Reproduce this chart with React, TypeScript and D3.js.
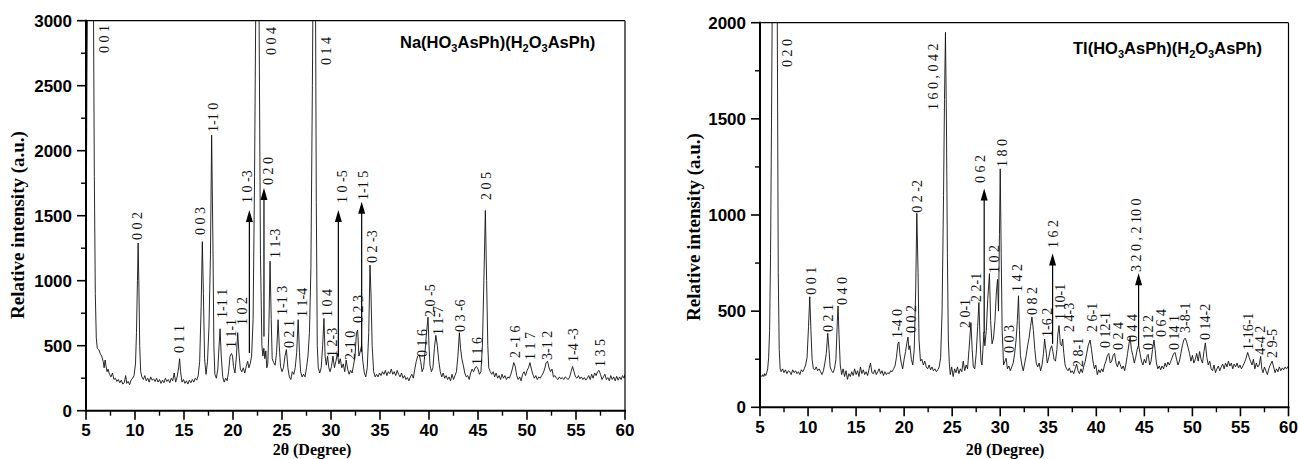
import React from "react";
import * as d3 from "d3";

// ---------- Data: Na(HO3AsPh)(H2O3AsPh) ----------
const naPattern: [number, number][] = [
  [5.0, 1100], [5.1, 2600], [5.2, 3600], [5.4, 4500], [5.6, 4200], [5.75, 3300], [5.85, 1800], [5.95, 900],
  [6.05, 560], [6.15, 480], [6.3, 470], [6.45, 440], [6.6, 420], [6.75, 380], [6.85, 330], [6.95, 390],
  [7.05, 340], [7.15, 300], [7.25, 320], [7.4, 280], [7.55, 260], [7.7, 290], [7.85, 240], [8.0, 250],
  [8.15, 225], [8.3, 240], [8.45, 215], [8.6, 235], [8.75, 205], [8.9, 215], [9.05, 270], [9.15, 210],
  [9.3, 225], [9.45, 200], [9.6, 235], [9.75, 250], [9.9, 270], [10.05, 360], [10.15, 600], [10.25, 1000],
  [10.32, 1290], [10.4, 950], [10.48, 500], [10.58, 300], [10.7, 260], [10.85, 240], [11.0, 270], [11.15, 230],
  [11.3, 250], [11.45, 220], [11.6, 260], [11.75, 235], [11.9, 245], [12.05, 225], [12.2, 250], [12.35, 220],
  [12.5, 240], [12.65, 210], [12.8, 235], [12.95, 215], [13.1, 250], [13.25, 225], [13.4, 240], [13.55, 215],
  [13.7, 250], [13.85, 230], [14.0, 290], [14.15, 220], [14.3, 260], [14.45, 330], [14.55, 400], [14.65, 300],
  [14.8, 220], [14.95, 240], [15.1, 210], [15.25, 230], [15.4, 205], [15.55, 235], [15.7, 215], [15.85, 240],
  [16.0, 220], [16.15, 250], [16.3, 235], [16.45, 270], [16.6, 380], [16.75, 800], [16.87, 1300], [16.98, 900],
  [17.1, 400], [17.25, 280], [17.4, 380], [17.55, 650], [17.7, 1200], [17.82, 2120], [17.95, 1300], [18.05, 500],
  [18.15, 280], [18.3, 250], [18.45, 320], [18.58, 500], [18.68, 630], [18.8, 420], [18.95, 260], [19.1, 220],
  [19.25, 250], [19.4, 230], [19.55, 300], [19.7, 420], [19.85, 440], [19.95, 420], [20.05, 340], [20.2, 290],
  [20.35, 420], [20.48, 600], [20.6, 450], [20.75, 320], [20.9, 300], [21.05, 330], [21.2, 290], [21.35, 340],
  [21.5, 380], [21.62, 330], [21.75, 360], [21.9, 420], [22.05, 700], [22.2, 1800], [22.35, 3400], [22.5, 4000],
  [22.65, 3200], [22.8, 1200], [22.95, 500], [23.05, 420], [23.15, 480], [23.25, 400], [23.35, 460], [23.45, 330],
  [23.55, 360], [23.65, 600], [23.78, 1150], [23.9, 700], [24.0, 400], [24.15, 370], [24.3, 350], [24.45, 450],
  [24.6, 700], [24.72, 500], [24.85, 340], [25.0, 300], [25.15, 330], [25.3, 420], [25.45, 470], [25.6, 330],
  [25.75, 260], [25.9, 240], [26.05, 300], [26.2, 280], [26.35, 330], [26.5, 450], [26.65, 700], [26.78, 450],
  [26.9, 300], [27.05, 260], [27.2, 280], [27.35, 260], [27.5, 330], [27.65, 420], [27.8, 600], [27.95, 1100],
  [28.1, 2500], [28.25, 4200], [28.4, 3600], [28.5, 1600], [28.6, 500], [28.7, 330], [28.85, 290], [29.0, 330],
  [29.15, 500], [29.28, 710], [29.4, 420], [29.52, 350], [29.65, 420], [29.78, 330], [29.9, 300], [30.05, 340],
  [30.2, 420], [30.35, 330], [30.5, 380], [30.65, 440], [30.8, 360], [30.95, 400], [31.1, 330], [31.25, 360],
  [31.4, 300], [31.55, 390], [31.7, 320], [31.85, 280], [32.0, 310], [32.15, 290], [32.3, 350], [32.45, 420],
  [32.6, 600], [32.72, 620], [32.85, 420], [33.0, 460], [33.12, 500], [33.25, 380], [33.4, 290], [33.55, 260],
  [33.7, 330], [33.85, 600], [33.98, 1120], [34.08, 900], [34.2, 500], [34.35, 300], [34.5, 260], [34.65, 280],
  [34.8, 260], [34.95, 290], [35.1, 270], [35.25, 300], [35.4, 280], [35.55, 310], [35.7, 270], [35.85, 300],
  [36.0, 285], [36.15, 320], [36.3, 280], [36.45, 300], [36.6, 270], [36.75, 310], [36.9, 280], [37.05, 260],
  [37.2, 290], [37.35, 250], [37.5, 270], [37.65, 240], [37.8, 255], [37.95, 230], [38.1, 260], [38.25, 280],
  [38.4, 250], [38.55, 320], [38.7, 380], [38.85, 420], [39.0, 430], [39.15, 380], [39.3, 300], [39.45, 330],
  [39.6, 460], [39.75, 600], [39.9, 720], [40.0, 500], [40.1, 350], [40.25, 300], [40.4, 330], [40.55, 480],
  [40.7, 580], [40.85, 500], [41.0, 380], [41.15, 300], [41.3, 260], [41.45, 290], [41.6, 250], [41.75, 270],
  [41.9, 240], [42.05, 260], [42.2, 230], [42.35, 280], [42.5, 240], [42.65, 270], [42.8, 300], [42.95, 420],
  [43.1, 600], [43.22, 480], [43.35, 400], [43.5, 350], [43.65, 290], [43.8, 260], [43.95, 270], [44.1, 240],
  [44.25, 290], [44.4, 320], [44.55, 300], [44.7, 330], [44.85, 340], [45.0, 320], [45.15, 280], [45.3, 300],
  [45.45, 500], [45.6, 1000], [45.75, 1540], [45.88, 1000], [46.0, 500], [46.1, 330], [46.25, 300], [46.4, 280],
  [46.55, 300], [46.7, 260], [46.85, 290], [47.0, 250], [47.15, 270], [47.3, 240], [47.45, 280], [47.6, 250],
  [47.75, 270], [47.9, 240], [48.05, 260], [48.2, 250], [48.35, 280], [48.5, 320], [48.65, 370], [48.8, 340],
  [48.95, 270], [49.1, 240], [49.25, 260], [49.4, 230], [49.55, 280], [49.7, 300], [49.85, 270], [50.0, 310],
  [50.15, 330], [50.3, 370], [50.45, 320], [50.6, 280], [50.75, 250], [50.9, 270], [51.05, 240], [51.2, 260],
  [51.35, 250], [51.5, 270], [51.65, 290], [51.8, 320], [51.95, 370], [52.1, 380], [52.25, 330], [52.4, 300],
  [52.55, 320], [52.7, 260], [52.85, 270], [53.0, 250], [53.15, 240], [53.3, 260], [53.45, 245], [53.6, 255],
  [53.75, 240], [53.9, 260], [54.05, 250], [54.2, 240], [54.35, 260], [54.5, 300], [54.65, 340], [54.8, 300],
  [54.95, 260], [55.1, 250], [55.25, 270], [55.4, 245], [55.55, 260], [55.7, 240], [55.85, 255], [56.0, 235],
  [56.15, 250], [56.3, 270], [56.45, 240], [56.6, 280], [56.75, 250], [56.9, 290], [57.05, 270], [57.2, 300],
  [57.35, 310], [57.5, 280], [57.65, 240], [57.8, 260], [57.95, 280], [58.1, 240], [58.25, 255], [58.4, 230],
  [58.55, 270], [58.7, 240], [58.85, 260], [59.0, 230], [59.15, 265], [59.3, 235], [59.45, 260], [59.6, 240],
  [59.75, 270], [59.9, 250], [60.0, 280],
];

// [label, 2θ, intensity at label start]
const naLabels: [string, number, number][] = [
  ["0 0 1", 6.84, 2752], ["0 0 4", 23.88, 2736], ["0 1 4", 29.49, 2659], ["1-1 0", 17.96, 2144],
  ["1 0 -3", 21.46, 1598], ["0 2 0", 23.54, 1736], ["0 0 2", 10.26, 1313], ["0 0 3", 16.63, 1351],
  ["0 1 1", 14.49, 444], ["1-1 1", 18.93, 713], ["1 1-1", 19.8, 482], ["1 0 2", 20.89, 659],
  ["1 1-3", 24.29, 1175], ["1-1 3", 24.97, 736], ["0 2 1", 25.71, 482], ["1 1-4", 27.01, 721],
  ["1 0 4", 29.56, 721], ["1 2-3", 30.15, 413], ["1 0 -5", 31.09, 1598], ["2-1 0", 31.94, 390],
  ["0 2 3", 32.79, 675], ["1-1 5", 33.3, 1621], ["0 2 -3", 34.15, 1136], ["0 1 6", 39.26, 413],
  ["2 0 -5", 40.1, 721], ["1 1-7", 40.95, 582], ["0 3 -6", 43.16, 605], ["1 1 6", 44.87, 351],
  ["2 0 5", 45.82, 1621], ["2 -1 6", 48.78, 405], ["1 1 7", 50.31, 390], ["3-1 2", 52.09, 390],
  ["1-4 -3", 54.72, 375], ["1 3 5", 57.45, 336],
];

// [2θ, from intensity, to intensity]
const naArrows: [number, number, number][] = [
  [21.67, 444, 1544], [23.16, 570, 1713], [30.75, 415, 1544], [33.13, 454, 1608],
];

const naYTicks = [0, 500, 1000, 1500, 2000, 2500, 3000];

// ---------- Data: Tl(HO3AsPh)(H2O3AsPh) ----------
const tlPattern: [number, number][] = [
  [5.0, 150], [5.1, 165], [5.2, 160], [5.3, 170], [5.4, 160], [5.5, 175], [5.6, 165], [5.7, 180],
  [5.8, 200], [5.9, 260], [6.0, 400], [6.1, 800], [6.2, 1500], [6.3, 2300], [6.4, 3000], [6.5, 3400],
  [6.6, 3600], [6.7, 3200], [6.8, 2000], [6.9, 700], [7.0, 300], [7.1, 200], [7.2, 185], [7.35, 200],
  [7.5, 180], [7.65, 195], [7.8, 175], [7.95, 190], [8.1, 185], [8.25, 170], [8.4, 195], [8.55, 180],
  [8.7, 190], [8.85, 175], [9.0, 185], [9.15, 170], [9.3, 195], [9.45, 185], [9.6, 200], [9.75, 220],
  [9.9, 260], [10.05, 420], [10.18, 575], [10.3, 400], [10.42, 250], [10.55, 200], [10.7, 195], [10.85, 210],
  [11.0, 190], [11.15, 200], [11.3, 185], [11.45, 170], [11.6, 190], [11.75, 230], [11.9, 280], [12.05, 385],
  [12.18, 300], [12.3, 210], [12.45, 190], [12.6, 180], [12.75, 200], [12.9, 250], [13.05, 450], [13.12, 527],
  [13.22, 380], [13.35, 220], [13.5, 170], [13.65, 200], [13.8, 160], [13.95, 190], [14.1, 145], [14.25, 175],
  [14.4, 160], [14.55, 185], [14.7, 165], [14.85, 200], [15.0, 170], [15.15, 190], [15.3, 160], [15.45, 210],
  [15.6, 175], [15.75, 195], [15.9, 170], [16.05, 185], [16.2, 165], [16.35, 200], [16.5, 230], [16.65, 180],
  [16.8, 175], [16.95, 195], [17.1, 170], [17.25, 185], [17.4, 200], [17.55, 175], [17.7, 190], [17.85, 165],
  [18.0, 185], [18.15, 170], [18.3, 180], [18.45, 175], [18.6, 190], [18.75, 185], [18.9, 200], [19.05, 215],
  [19.2, 260], [19.35, 330], [19.45, 340], [19.55, 280], [19.7, 230], [19.85, 200], [20.0, 250], [20.15, 290],
  [20.3, 340], [20.4, 365], [20.5, 300], [20.6, 320], [20.75, 250], [20.9, 220], [21.05, 300], [21.2, 600],
  [21.32, 1009], [21.45, 700], [21.55, 350], [21.7, 240], [21.85, 250], [22.0, 220], [22.15, 240], [22.3, 210],
  [22.45, 200], [22.6, 220], [22.75, 195], [22.9, 210], [23.05, 190], [23.2, 200], [23.35, 185], [23.5, 195],
  [23.65, 210], [23.8, 260], [23.95, 500], [24.1, 1100], [24.2, 1600], [24.3, 1950], [24.4, 1500], [24.5, 800],
  [24.6, 350], [24.7, 230], [24.8, 170], [24.95, 210], [25.1, 160], [25.25, 200], [25.4, 180], [25.55, 210],
  [25.7, 175], [25.85, 200], [26.0, 185], [26.15, 240], [26.3, 190], [26.45, 220], [26.6, 200], [26.75, 300],
  [26.95, 440], [27.08, 300], [27.2, 210], [27.35, 200], [27.5, 280], [27.65, 420], [27.78, 545], [27.9, 350],
  [28.0, 240], [28.1, 220], [28.2, 300], [28.3, 390], [28.4, 320], [28.55, 400], [28.7, 560], [28.88, 695],
  [29.0, 450], [29.15, 330], [29.3, 360], [29.45, 450], [29.6, 600], [29.72, 665], [29.82, 500], [29.92, 900],
  [30.0, 1240], [30.1, 800], [30.2, 400], [30.35, 220], [30.5, 240], [30.62, 255], [30.75, 200], [30.9, 215],
  [31.05, 190], [31.2, 210], [31.35, 230], [31.5, 280], [31.65, 350], [31.78, 450], [31.9, 580], [32.0, 400],
  [32.1, 270], [32.25, 220], [32.4, 190], [32.55, 230], [32.7, 270], [32.85, 320], [33.0, 360], [33.15, 420],
  [33.3, 470], [33.45, 400], [33.6, 300], [33.75, 230], [33.9, 210], [34.05, 230], [34.2, 190], [34.35, 220],
  [34.5, 280], [34.62, 355], [34.75, 300], [34.9, 230], [35.05, 260], [35.2, 300], [35.35, 320], [35.48, 290],
  [35.6, 250], [35.75, 240], [35.9, 300], [36.0, 380], [36.12, 425], [36.25, 330], [36.4, 320], [36.5, 355],
  [36.62, 280], [36.75, 220], [36.9, 200], [37.05, 190], [37.2, 205], [37.35, 180], [37.5, 190], [37.65, 175],
  [37.8, 200], [37.95, 225], [38.1, 190], [38.25, 175], [38.4, 200], [38.55, 180], [38.7, 215], [38.85, 240],
  [39.0, 280], [39.15, 320], [39.35, 350], [39.5, 300], [39.65, 240], [39.8, 200], [39.95, 220], [40.1, 170],
  [40.25, 195], [40.4, 180], [40.55, 200], [40.7, 185], [40.85, 220], [41.0, 240], [41.15, 270], [41.3, 280],
  [41.45, 230], [41.6, 240], [41.75, 270], [41.9, 280], [42.05, 230], [42.2, 210], [42.35, 240], [42.5, 220],
  [42.65, 200], [42.8, 215], [42.95, 190], [43.1, 230], [43.25, 280], [43.4, 330], [43.52, 365], [43.65, 300],
  [43.8, 270], [43.95, 230], [44.1, 260], [44.25, 300], [44.4, 325], [44.55, 280], [44.7, 240], [44.85, 220],
  [45.0, 250], [45.15, 230], [45.3, 270], [45.4, 275], [45.55, 220], [45.7, 240], [45.85, 300], [46.0, 350],
  [46.12, 300], [46.25, 230], [46.4, 200], [46.55, 215], [46.7, 195], [46.85, 215], [47.0, 200], [47.15, 230],
  [47.3, 210], [47.45, 235], [47.6, 220], [47.75, 240], [47.9, 260], [48.05, 280], [48.2, 285], [48.35, 250],
  [48.5, 220], [48.65, 240], [48.8, 280], [48.95, 320], [49.1, 350], [49.25, 360], [49.4, 340], [49.55, 310],
  [49.7, 280], [49.85, 240], [50.0, 270], [50.15, 230], [50.3, 250], [50.45, 280], [50.6, 240], [50.75, 290],
  [50.9, 250], [51.05, 230], [51.2, 290], [51.35, 335], [51.5, 260], [51.65, 220], [51.8, 240], [51.95, 200],
  [52.1, 190], [52.25, 220], [52.4, 180], [52.55, 200], [52.7, 215], [52.85, 190], [53.0, 210], [53.15, 225],
  [53.3, 200], [53.45, 230], [53.6, 210], [53.75, 240], [53.9, 215], [54.05, 230], [54.2, 200], [54.35, 225],
  [54.5, 210], [54.65, 230], [54.8, 205], [54.95, 220], [55.1, 200], [55.25, 215], [55.4, 230], [55.55, 250],
  [55.75, 285], [55.9, 260], [56.05, 240], [56.2, 220], [56.35, 250], [56.5, 200], [56.65, 230], [56.8, 210],
  [56.95, 220], [57.1, 265], [57.22, 200], [57.35, 180], [57.5, 210], [57.65, 190], [57.8, 170], [57.95, 200],
  [58.1, 220], [58.3, 240], [58.45, 210], [58.6, 180], [58.75, 200], [58.9, 185], [59.05, 210], [59.2, 190],
  [59.35, 205], [59.5, 195], [59.65, 210], [59.8, 200], [60.0, 215],
];

const tlLabels: [string, number, number][] = [
  ["0 2 0", 7.81, 1770], ["1 6 0 , 0 4 2", 23.02, 1546], ["0 2 -2", 21.32, 1012], ["0 0 1", 10.31, 585],
  ["0 2 1", 12.08, 392], ["0 4 0", 13.54, 532], ["1-4 0", 19.27, 360], ["0 0 2", 20.73, 386],
  ["2 0-1", 26.35, 412], ["2 2-1", 27.47, 548], ["1 0 2", 29.38, 698], ["1 8 0", 30.21, 1250],
  ["0 6 2", 27.92, 1166], ["0 0 3", 30.94, 283], ["1 4 2", 31.77, 600], ["0 8 2", 33.33, 480],
  ["1-6 2", 34.9, 366], ["1 6 2", 35.52, 828], ["1 10-1", 36.25, 454], ["2 4-3", 37.19, 392],
  ["2 8-1", 38.13, 210], ["2 6-1", 39.58, 392], ["0 12-1", 40.94, 308], ["0 2 4", 42.29, 298],
  ["0 4 4", 43.75, 340], ["3 2 0 , 2 10 0", 44.17, 704], ["0 12 2", 45.42, 298], ["0 6 4", 46.77, 366],
  ["0 14 1", 48.13, 298], ["3-8-1", 49.27, 387], ["0 14-2", 51.35, 350], ["1-16-1", 55.83, 298],
  ["4-4 2", 57.08, 273], ["2 9-5", 58.33, 256],
];

const tlArrows: [number, number, number][] = [
  [28.33, 386, 1138], [35.45, 330, 800], [44.4, 324, 697],
];

const tlYTicks = [0, 500, 1000, 1500, 2000];

const xTicks = [5, 10, 15, 20, 25, 30, 35, 40, 45, 50, 55, 60];

const naTitle: [string, boolean][] = [["Na(HO", false], ["3", true], ["AsPh)(H", false], ["2", true], ["O", false], ["3", true], ["AsPh)", false]];
const tlTitle: [string, boolean][] = [["Tl(HO", false], ["3", true], ["AsPh)(H", false], ["2", true], ["O", false], ["3", true], ["AsPh)", false]];

type PanelProps = {
  id: string;
  pattern: [number, number][];
  labels: [string, number, number][];
  arrows: [number, number, number][];
  yTicks: number[];
  left: number; right: number; top: number; bottom: number;
  title: [string, boolean][];
  titleX: number; titleY: number;
  yTitleX: number; yTitleY: number;
  xTitleX: number;
  tickLabelY: number;
};

const SANS = "'Liberation Sans', Arial, sans-serif";
const SERIF = "'Liberation Serif', 'Times New Roman', serif";

function Panel(p: PanelProps) {
  const yMax = p.yTicks[p.yTicks.length - 1];
  const x = d3.scaleLinear().domain([5, 60]).range([p.left, p.right]);
  const y = d3.scaleLinear().domain([0, yMax]).range([p.bottom, p.top]);
  const line = d3.line<[number, number]>().x((d) => x(d[0])).y((d) => y(d[1]));
  const xMinor = d3.range(7.5, 60, 5);
  const yMinor = d3.range(250, yMax, 500);
  const clipId = `clip-${p.id}`;
  return (
    <g>
      <defs>
        <clipPath id={clipId}>
          <rect x={p.left} y={p.top} width={p.right - p.left} height={p.bottom - p.top} />
        </clipPath>
      </defs>
      <path d={line(p.pattern) || ""} fill="none" stroke="#111" strokeWidth={0.9} clipPath={`url(#${clipId})`} />
      {/* frame */}
      <line x1={p.left} x2={p.right} y1={p.top} y2={p.top} stroke="#000" strokeWidth={1.2} />
      <line x1={p.right} x2={p.right} y1={p.top} y2={p.bottom} stroke="#000" strokeWidth={1.2} />
      <line x1={p.left} x2={p.left} y1={p.top - 1} y2={p.bottom + 1} stroke="#000" strokeWidth={2} />
      <line x1={p.left - 1} x2={p.right + 1} y1={p.bottom} y2={p.bottom} stroke="#000" strokeWidth={2} />
      {/* x ticks */}
      {xTicks.map((t) => (
        <g key={`xt${t}`}>
          <line x1={x(t)} x2={x(t)} y1={p.bottom} y2={p.bottom + 9} stroke="#000" strokeWidth={1.6} />
          <text x={x(t)} y={p.tickLabelY} textAnchor="middle" fontFamily={SANS} fontWeight="bold" fontSize={17}>{t}</text>
        </g>
      ))}
      {xMinor.map((t) => (
        <line key={`xm${t}`} x1={x(t)} x2={x(t)} y1={p.bottom} y2={p.bottom + 5} stroke="#000" strokeWidth={1.4} />
      ))}
      {/* y ticks */}
      {p.yTicks.map((t) => (
        <g key={`yt${t}`}>
          <line x1={p.left - 9} x2={p.left} y1={y(t)} y2={y(t)} stroke="#000" strokeWidth={1.6} />
          <text x={p.left - 14} y={y(t)} dy="0.36em" textAnchor="end" fontFamily={SANS} fontWeight="bold" fontSize={17}>{t}</text>
        </g>
      ))}
      {yMinor.map((t) => (
        <line key={`ym${t}`} x1={p.left - 5} x2={p.left} y1={y(t)} y2={y(t)} stroke="#000" strokeWidth={1.4} />
      ))}
      {/* arrows */}
      {p.arrows.map(([t, a, b], i) => {
        const ax = x(t);
        const y0 = y(a);
        const y1 = y(b);
        return (
          <g key={`ar${i}`}>
            <line x1={ax} x2={ax} y1={y0} y2={y1 + 10} stroke="#000" strokeWidth={1.2} />
            <path d={`M${ax},${y1} L${ax - 3.5},${y1 + 12} L${ax + 3.5},${y1 + 12} Z`} fill="#000" />
          </g>
        );
      })}
      {/* peak labels */}
      {p.labels.map(([s, t, v], i) => (
        <text
          key={`lb${i}`}
          transform={`translate(${x(t)},${y(v)}) rotate(-90)`}
          dy="0.35em"
          textAnchor="start"
          fontFamily={SERIF}
          fontSize={14}
          fill="#111"
        >
          {s}
        </text>
      ))}
      {/* compound title */}
      <text x={p.titleX} y={p.titleY} fontFamily={SANS} fontWeight="bold" fontSize={16.5}>
        {p.title.map(([s, sub], i) =>
          sub ? (
            <tspan key={i} fontSize={11} dy={4}>{s}</tspan>
          ) : (
            <tspan key={i} dy={i > 0 && p.title[i - 1][1] ? -4 : 0}>{s}</tspan>
          )
        )}
      </text>
      {/* axis titles */}
      <text
        transform={`translate(${p.yTitleX},${p.yTitleY}) rotate(-90)`}
        textAnchor="middle"
        dy="0.35em"
        fontFamily={SERIF}
        fontWeight="bold"
        fontSize={19}
      >
        Relative intensity (a.u.)
      </text>
      <text x={p.xTitleX} y={455} textAnchor="middle" fontFamily={SERIF} fontWeight="bold" fontSize={16}>
        2θ (Degree)
      </text>
    </g>
  );
}

export default function App() {
  return (
    <svg
      width={1298}
      height={459}
      viewBox="0 0 1298 459"
      style={{ position: "absolute", left: 0, top: 0, background: "#fff" }}
    >
      <rect x={0} y={0} width={1298} height={459} fill="#fff" />
      <Panel
        id="na"
        pattern={naPattern}
        labels={naLabels}
        arrows={naArrows}
        yTicks={naYTicks}
        left={86} right={625} top={20.7} bottom={410.7}
        title={naTitle}
        titleX={400} titleY={48}
        yTitleX={17} yTitleY={225}
        xTitleX={312}
        tickLabelY={436}
      />
      <Panel
        id="tl"
        pattern={tlPattern}
        labels={tlLabels}
        arrows={tlArrows}
        yTicks={tlYTicks}
        left={760} right={1288.5} top={22.7} bottom={407.3}
        title={tlTitle}
        titleX={1073} titleY={54}
        yTitleX={693} yTitleY={227}
        xTitleX={1005}
        tickLabelY={433}
      />
    </svg>
  );
}
